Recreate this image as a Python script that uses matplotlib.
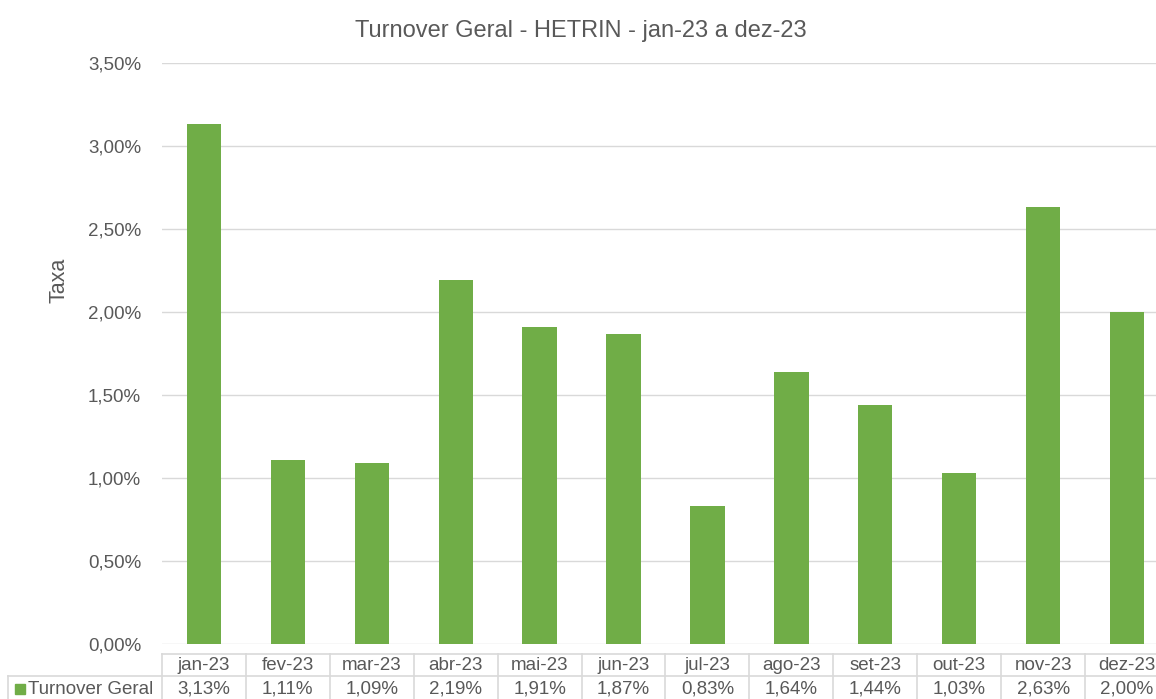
import matplotlib
matplotlib.use('Agg')
import matplotlib.pyplot as plt
from matplotlib.transforms import blended_transform_factory
from matplotlib.lines import Line2D
from matplotlib.patches import Rectangle

months = ['jan-23', 'fev-23', 'mar-23', 'abr-23', 'mai-23', 'jun-23',
          'jul-23', 'ago-23', 'set-23', 'out-23', 'nov-23', 'dez-23']
turnover = [3.13, 1.11, 1.09, 2.19, 1.91, 1.87, 0.83, 1.64, 1.44, 1.03, 2.63, 2.00]
yticks = [0.0, 0.5, 1.0, 1.5, 2.0, 2.5, 3.0, 3.5]

plt.rcParams['font.family'] = ['Liberation Sans', 'DejaVu Sans']
gray = '#595959'
green = '#70AD47'
grid_c = '#D9D9D9'
fs = 13.5

W, H = 1156, 699
fig = plt.figure(figsize=(W / 100, H / 100), dpi=100)
x0, x1 = 162, 1169
ytop, ybot = 63, 644
ax = fig.add_axes([x0 / W, 1 - ybot / H, (x1 - x0) / W, (ybot - ytop) / H])

xs = list(range(len(months)))
ax.bar(xs, turnover, width=0.41, color=green, zorder=3)
ax.set_xlim(-0.5, len(months) - 0.5)
ax.set_ylim(0, 3.5)
ax.set_yticks(yticks)
ax.set_yticklabels([f'{v:.2f}%'.replace('.', ',') for v in yticks], fontsize=fs, color=gray)
ax.set_xticks([])
ax.tick_params(axis='y', length=0, pad=15)
ax.grid(axis='y', color=grid_c, linewidth=1, zorder=0)
for s in ax.spines.values():
    s.set_visible(False)

fig.text(59 / W, 1 - 280 / H, 'Taxa', rotation=90, ha='center', va='center',
         fontsize=15.5, color=gray)
fig.text(581 / W, 1 - 31 / H, 'Turnover Geral - HETRIN - jan-23 a dez-23',
         ha='center', va='center', fontsize=17, color=gray)

# data table below the axes
tr = blended_transform_factory(ax.transData, fig.transFigure)
fy = lambda p: 1 - p / H
row_top, row_mid, row_bot = 654, 676, 702
line_kw = dict(color=grid_c, linewidth=1.2)

# horizontal lines
fig.add_artist(Line2D([-0.5, len(months) - 0.5], [fy(row_top)] * 2, transform=tr, **line_kw))
fig.add_artist(Line2D([8 / W, 1.05], [fy(row_mid)] * 2, transform=fig.transFigure, **line_kw))
# vertical lines
for i in range(len(months) + 1):
    fig.add_artist(Line2D([i - 0.5] * 2, [fy(row_top), fy(row_bot)], transform=tr, **line_kw))
fig.add_artist(Line2D([8 / W] * 2, [fy(row_mid), fy(row_bot)], transform=fig.transFigure, **line_kw))

for i, (m, v) in enumerate(zip(months, turnover)):
    fig.text(i, fy(665), m, transform=tr, ha='center', va='center', fontsize=fs, color=gray)
    fig.text(i, fy(689), f'{v:.2f}%'.replace('.', ','), transform=tr,
             ha='center', va='center', fontsize=fs, color=gray)

fig.add_artist(Rectangle((15 / W, fy(694)), 10 / W, 10 / H, transform=fig.transFigure,
                         color=green))
fig.text(28 / W, fy(689), 'Turnover Geral', ha='left', va='center', fontsize=fs, color=gray)

fig.savefig('out.png', dpi=100)
